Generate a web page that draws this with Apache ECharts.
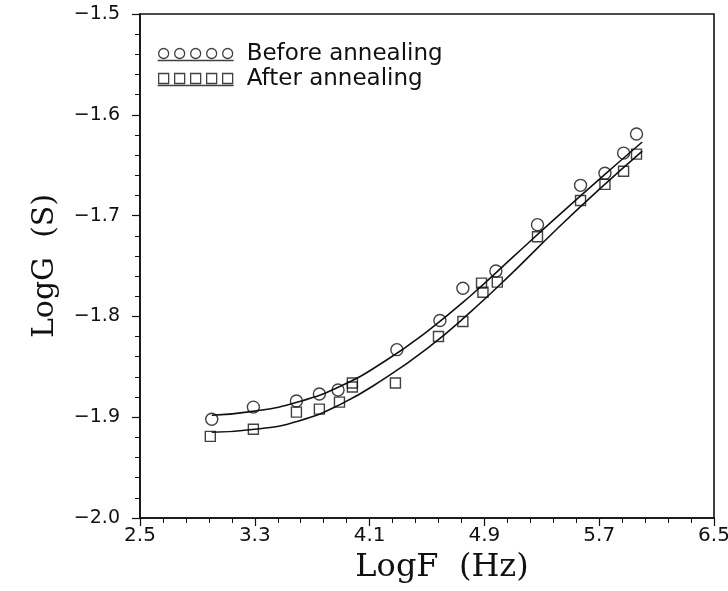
<!DOCTYPE html>
<html>
<head>
<meta charset="utf-8">
<script src="https://cdn.jsdelivr.net/npm/echarts@6/dist/echarts.min.js"></script>
<style>
  html, body { margin: 0; padding: 0; background: #fff; }
  #chart { width: 728px; height: 591px; }
</style>
</head>
<body>
<div id="chart"></div>
<script>
// measured points, before annealing (circles)
var beforeF = [3.0, 3.29, 3.59, 3.75, 3.88, 4.29, 4.59, 4.75, 4.98, 5.27, 5.57, 5.74, 5.87, 5.96]
var beforeG = [-1.902, -1.890, -1.884, -1.877, -1.873, -1.833, -1.804, -1.772, -1.755, -1.709, -1.670, -1.658, -1.638, -1.619]
// measured points, after annealing (squares)
var afterF = [2.99, 3.29, 3.59, 3.75, 3.89, 3.98, 3.98, 4.28, 4.58, 4.75, 4.88, 4.89, 4.99, 5.27, 5.57, 5.74, 5.87, 5.96]
var afterG = [-1.919, -1.912, -1.895, -1.892, -1.885, -1.866, -1.870, -1.866, -1.820, -1.805, -1.767, -1.776, -1.766, -1.721, -1.685, -1.669, -1.656, -1.639]
// fitted curves
var fitF = [3.0, 3.3, 3.6, 3.9, 4.2, 4.5, 4.8, 5.1, 5.4, 5.7, 6.0]
var fitBefore = [-1.898, -1.894, -1.885, -1.869, -1.845, -1.815, -1.780, -1.741, -1.702, -1.664, -1.627]
var fitAfter = [-1.915, -1.912, -1.904, -1.887, -1.862, -1.832, -1.796, -1.756, -1.714, -1.674, -1.636]
// axis ticks
var xTicks = [2.5, 3.3, 4.1, 4.9, 5.7, 6.5]
var yTicks = [-2.0, -1.9, -1.8, -1.7, -1.6, -1.5]

function pairs(xs, ys) {
    var out = []
    for (var i = 0; i < xs.length; i++) out.push([xs[i], ys[i]])
    return out
}

var circlesIcon = 'path://M1,5a5,5 0 1,0 10,0a5,5 0 1,0 -10,0M17,5a5,5 0 1,0 10,0a5,5 0 1,0 -10,0'
    + 'M33,5a5,5 0 1,0 10,0a5,5 0 1,0 -10,0M49,5a5,5 0 1,0 10,0a5,5 0 1,0 -10,0'
    + 'M65,5a5,5 0 1,0 10,0a5,5 0 1,0 -10,0M0,12L76,12'
var squaresIcon = 'path://M1,0h10v10h-10zM17,0h10v10h-10zM33,0h10v10h-10zM49,0h10v10h-10zM65,0h10v10h-10zM0,12L76,12'

var black = '#111'
var hollow = { color: 'rgba(0,0,0,0)', borderColor: black, borderWidth: 1.4 }

var chart = echarts.init(document.getElementById('chart'))
var option = {
    backgroundColor: '#fff',
    animation: false,
    grid: {
        left: 140, right: 14, top: 14, bottom: 73,
        outerBoundsMode: 'none', containLabel: false,
        show: true, borderColor: black, borderWidth: 1.6
    },
    legend: {
        orient: 'vertical',
        left: 152, top: 38,
        itemWidth: 76, itemHeight: 12, itemGap: 2,
        data: [
            { name: 'Before annealing', icon: circlesIcon },
            { name: 'After annealing', icon: squaresIcon }
        ],
        itemStyle: { color: 'rgba(0,0,0,0)', borderColor: black, borderWidth: 1.3 },
        textStyle: {
            fontFamily: 'DejaVu Sans', fontSize: 23, color: black,
            lineHeight: 22, padding: [0, 0, 0, 8]
        }
    },
    xAxis: {
        type: 'value',
        min: xTicks[0], max: xTicks[xTicks.length - 1], interval: 0.8,
        name: 'LogF  (Hz)', nameLocation: 'middle', nameGap: 34,
        nameTextStyle: { fontFamily: 'DejaVu Serif', fontSize: 32, color: black, padding: [0, 0, 0, 30] },
        axisLine: { lineStyle: { color: black, width: 1.6 } },
        axisTick: { length: 8, lineStyle: { color: black, width: 1.2 } },
        minorTick: { show: true, splitNumber: 5, length: 5, lineStyle: { color: black, width: 1 } },
        splitLine: { show: false },
        axisLabel: {
            margin: 8, fontFamily: 'DejaVu Sans', fontSize: 20, color: black,
            formatter: function (v) { return v.toFixed(1) }
        }
    },
    yAxis: {
        type: 'value',
        min: yTicks[0], max: yTicks[yTicks.length - 1], interval: 0.1,
        name: 'LogG  (S)', nameLocation: 'middle', nameGap: 80,
        nameTextStyle: { fontFamily: 'DejaVu Serif', fontSize: 30, color: black },
        axisLine: { lineStyle: { color: black, width: 1.6 } },
        axisTick: { length: 8, lineStyle: { color: black, width: 1.2 } },
        minorTick: { show: true, splitNumber: 5, length: 5, lineStyle: { color: black, width: 1 } },
        splitLine: { show: false },
        axisLabel: {
            margin: 20, fontFamily: 'DejaVu Sans', fontSize: 19, color: black,
            formatter: function (v) { return v.toFixed(1).replace('-', '\u2212') }
        }
    },
    series: [
        {
            name: 'Before annealing', type: 'scatter',
            symbol: 'circle', symbolSize: 12,
            itemStyle: hollow,
            data: pairs(beforeF, beforeG), z: 3
        },
        {
            name: 'After annealing', type: 'scatter',
            symbol: 'rect', symbolSize: 10,
            itemStyle: hollow,
            data: pairs(afterF, afterG), z: 3
        },
        {
            name: 'fit before', type: 'line', smooth: true, showSymbol: false,
            lineStyle: { color: black, width: 1.6 },
            data: pairs(fitF, fitBefore)
        },
        {
            name: 'fit after', type: 'line', smooth: true, showSymbol: false,
            lineStyle: { color: black, width: 1.6 },
            data: pairs(fitF, fitAfter)
        }
    ]
}
chart.setOption(option)
</script>
</body>
</html>
